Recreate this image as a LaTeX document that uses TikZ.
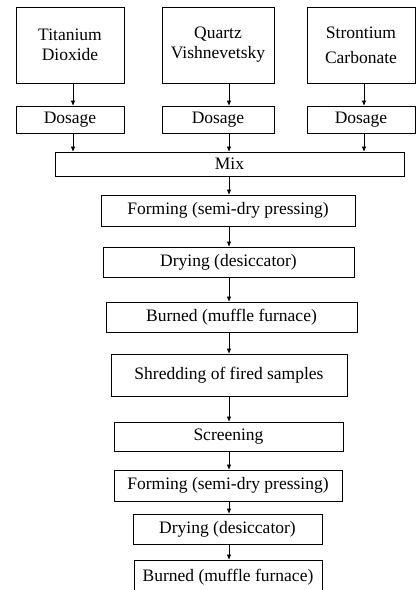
\documentclass[tikz,border=0pt]{standalone}
\usepackage{fontspec}
\setmainfont{Liberation Serif}
\usetikzlibrary{arrows.meta}
\tikzset{
  pbox/.style={draw=black, line width=1pt, inner sep=0pt, align=center,
    font=\fontsize{17.5}{20}\selectfont},
  arr/.style={draw=black, line width=0.9pt, -{Triangle[length=5pt,width=4pt]}}
}
\begin{document}
\begin{tikzpicture}[x=1pt,y=-1pt]
\useasboundingbox (0,0) rectangle (416,590);
\clip (0,0) rectangle (416,590);
% column x positions
\coordinate (c1) at (73,0);
\coordinate (c2) at (229,0);
\coordinate (c3) at (364,0);
% raw materials
\node[pbox, minimum width=108pt, minimum height=76pt] (ti) at (70,45) {Titanium\\Dioxide};
\node[pbox, minimum width=112pt, minimum height=76pt] (qu) at (218,45) {Quartz\\Vishnevetsky};
\node[pbox, minimum width=108pt, minimum height=76pt, font=\fontsize{17.5}{25}\selectfont] (sr) at (361,45) {Strontium\\Carbonate};
% dosage
\node[pbox, minimum width=108pt, minimum height=27pt] (d1) at (70,119.5) {Dosage};
\node[pbox, minimum width=112pt, minimum height=27pt] (d2) at (218,119.5) {Dosage};
\node[pbox, minimum width=108pt, minimum height=27pt] (d3) at (361,119.5) {Dosage};
% mix
\node[pbox, minimum width=349pt, minimum height=24pt] (mix) at (229.5,164) {Mix};
% process chain
\node[pbox, minimum width=254pt, minimum height=31pt] (f1) at (228,210.5) {Forming (semi-dry pressing)};
\node[pbox, minimum width=251pt, minimum height=30pt] (dr1) at (228.5,262) {Drying (desiccator)};
\node[pbox, minimum width=251pt, minimum height=30pt] (b1) at (231.5,317) {Burned (muffle furnace)};
\node[pbox, minimum width=236pt, minimum height=42pt] (sh) at (229,375) {Shredding of fired samples};
\node[pbox, minimum width=229pt, minimum height=29pt] (sc) at (228.5,436.5) {Screening};
\node[pbox, minimum width=228pt, minimum height=31pt] (f2) at (228,485.5) {Forming (semi-dry pressing)};
\node[pbox, minimum width=189pt, minimum height=30pt] (dr2) at (227.5,529) {Drying (desiccator)};
\node[pbox, minimum width=188pt, minimum height=34pt] (b2) at (228,577) {Burned (muffle furnace)};
% connectors
\draw[arr] (ti.south -| c1) -- (d1.north -| c1);
\draw[arr] (qu.south -| c2) -- (d2.north -| c2);
\draw[arr] (sr.south -| c3) -- (d3.north -| c3);
\draw[arr] (d1.south -| c1) -- (mix.north -| c1);
\draw[arr] (d2.south -| c2) -- (mix.north -| c2);
\draw[arr] (d3.south -| c3) -- (mix.north -| c3);
\draw[arr] (mix.south -| c2) -- (f1.north -| c2);
\draw[arr] (f1.south -| c2) -- (dr1.north -| c2);
\draw[arr] (dr1.south -| c2) -- (b1.north -| c2);
\draw[arr] (b1.south -| c2) -- (sh.north -| c2);
\draw[arr] (sh.south -| c2) -- (sc.north -| c2);
\draw[arr] (sc.south -| c2) -- (f2.north -| c2);
\draw[arr] (f2.south -| c2) -- (dr2.north -| c2);
\draw[arr] (dr2.south -| c2) -- (b2.north -| c2);
\end{tikzpicture}
\end{document}
